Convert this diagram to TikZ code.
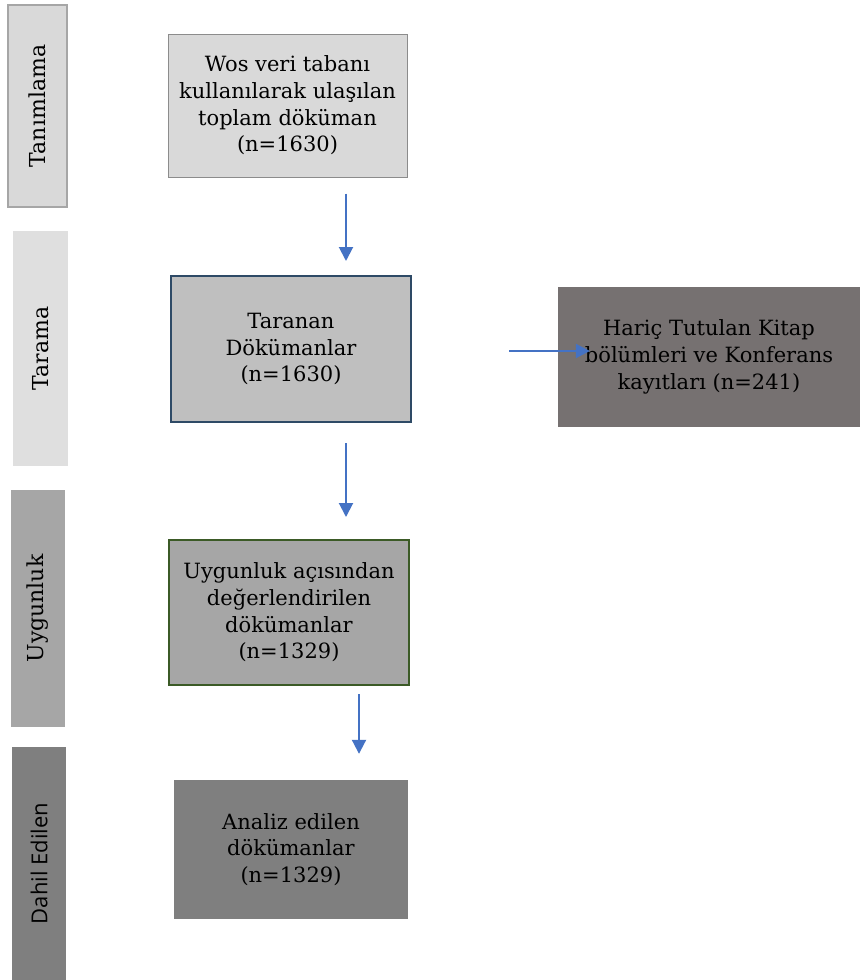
\documentclass[tikz,border=0pt]{standalone}
\usepackage{fontspec}
\setmainfont{DejaVu Serif}
\newfontfamily\labelsans{Open Sans}
\usetikzlibrary{arrows.meta,calc}
\definecolor{arrowblue}{HTML}{4472C4}
\definecolor{lgray}{HTML}{D9D9D9}
\definecolor{llgray}{HTML}{DFDFDF}
\definecolor{mgray}{HTML}{BFBFBF}
\definecolor{dgray}{HTML}{A6A6A6}
\definecolor{ddgray}{HTML}{7F7F7F}
\definecolor{warmgray}{HTML}{767171}
\definecolor{bordergray}{HTML}{8C8C8C}
\definecolor{borderblue}{HTML}{2E4A66}
\definecolor{bordergreen}{HTML}{3B5A26}
\tikzset{
  sidebox/.style={rotate=90, inner sep=0pt, font=\fontsize{22}{24}\selectfont},
  mainbox/.style={inner sep=0pt, align=center, font=\fontsize{21}{26.7}\selectfont},
  flow/.style={draw=arrowblue, line width=2pt, -{Triangle[width=14pt,length=14pt]}},
}
\begin{document}
\begin{tikzpicture}[x=1pt,y=-1pt]
\useasboundingbox[fill=white] (0,0) rectangle (860,980);
% side labels
\node[sidebox, fill=lgray, draw=dgray, line width=1.5pt, minimum width=202pt, minimum height=59pt] (s1) at (37.5,106) {Tanımlama};
\node[sidebox, fill=llgray, minimum width=235pt, minimum height=55pt] (s2) at (40.5,348.5) {Tarama};
\node[sidebox, fill=dgray, minimum width=237pt, minimum height=54pt] (s3) at (38,608.5) {Uygunluk};
\node[sidebox, fill=ddgray, minimum width=233pt, minimum height=54pt, font=\labelsans\fontsize{22}{24}\selectfont] (s4) at (39,863.5) {Dahil Edilen};
% main boxes
\node[mainbox, fill=lgray, draw=bordergray, line width=1pt, minimum width=239pt, minimum height=143pt] (b1) at (287.5,105.5) {Wos veri tabanı\\kullanılarak ulaşılan\\toplam döküman\\(n=1630)};
\node[mainbox, fill=mgray, draw=borderblue, line width=2pt, minimum width=240pt, minimum height=146pt] (b2) at (291,349) {Taranan\\Dökümanlar\\(n=1630)};
\node[mainbox, fill=dgray, draw=bordergreen, line width=2pt, minimum width=240pt, minimum height=145pt] (b3) at (289,612.5) {Uygunluk açısından\\değerlendirilen\\dökümanlar\\(n=1329)};
\node[mainbox, fill=ddgray, minimum width=234pt, minimum height=139pt] (b4) at (291,849.5) {Analiz edilen\\dökümanlar\\(n=1329)};
\node[mainbox, fill=warmgray, minimum width=302pt, minimum height=140pt] (b5) at (709,357) {Hariç Tutulan Kitap\\bölümleri ve Konferans\\kayıtları (n=241)};
% arrows
\draw[flow] ([shift={(58.5,16)}]b1.south) -- ([shift={(55,-14)}]b2.north);
\draw[flow] ([shift={(55,20)}]b2.south) -- ([shift={(57,-22)}]b3.north);
\draw[flow] ([shift={(70,8)}]b3.south) -- ([shift={(68,-26)}]b4.north);
\draw[flow] ([shift={(97,2)}]b2.east) -- ([shift={(32,-6)}]b5.west);
\end{tikzpicture}
\end{document}
